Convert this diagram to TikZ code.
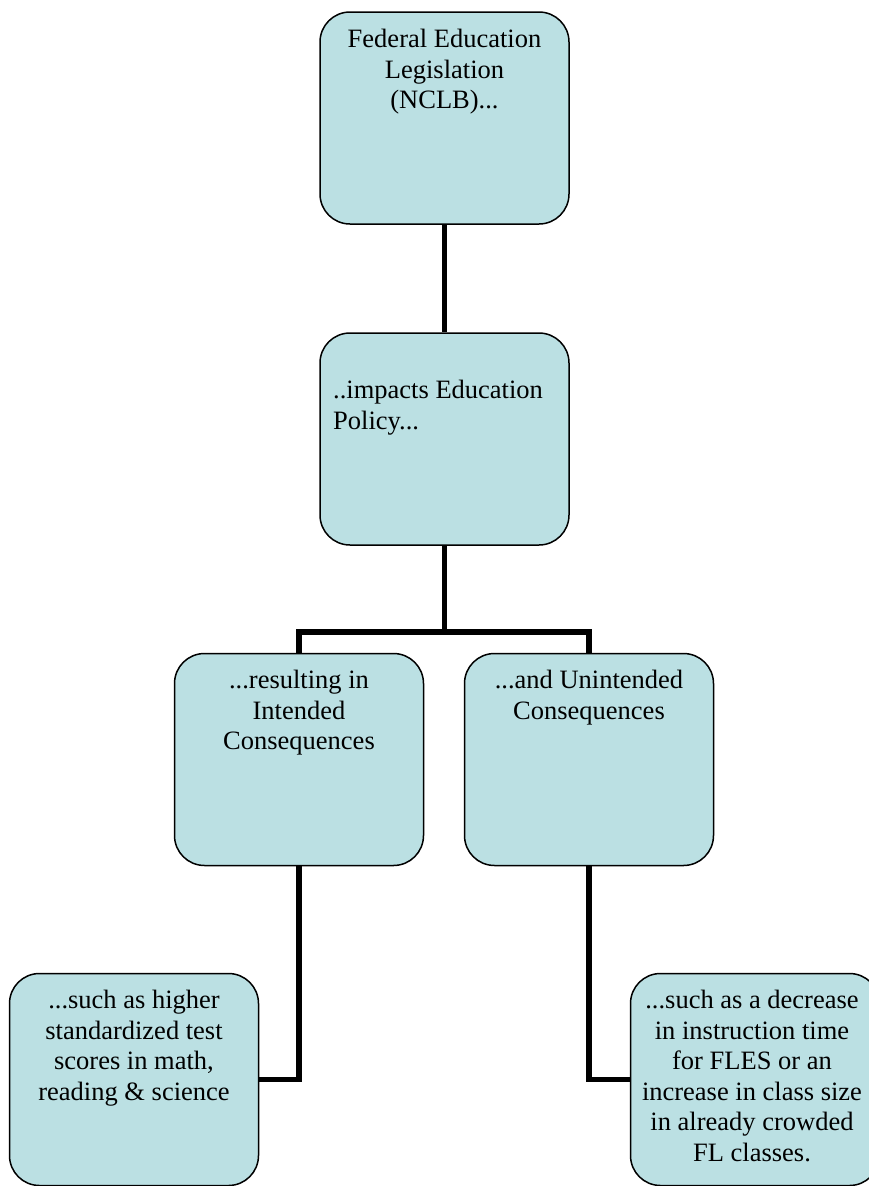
\documentclass[tikz,border=0pt]{standalone}
\usepackage{fontspec}
\setmainfont{Liberation Serif}
\definecolor{boxfill}{RGB}{187,224,227}
\pgfdeclarelayer{bg}
\pgfsetlayers{bg,main}
\begin{document}
\begin{tikzpicture}[x=1pt,y=-1pt,
  box/.style={draw=black, line width=1.5pt, fill=boxfill, rounded corners=30pt,
    minimum width=249pt, minimum height=212pt, inner sep=0pt},
  lbl/.style={font=\fontsize{26.5}{30.5}\selectfont, align=center, inner sep=0pt, anchor=north},
  link/.style={line width=5.5pt, line join=miter}]
\clip (0,0) rectangle (869,1186);
\useasboundingbox (0,0) rectangle (869,1186);
\coordinate (bus) at (444.5,632);
\node[box] (b1) at (444.5,118) {};
\node[box] (b2) at (444.5,439) {};
\node[box] (b3) at (299,759.5) {};
\node[box] (b4) at (589,759.5) {};
\node[box] (b5) at (134,1079.5) {};
\node[box] (b6) at (755,1079.5) {};
\begin{pgfonlayer}{bg}
\draw[link] (b1.south) -- (b2.north);
\draw[link] (b2.south) -- (bus) -| (b3.north);
\draw[link] (bus) -| (b4.north);
\draw[link] (b3.south) |- (b5.east);
\draw[link] (b4.south) |- (b6.east);
\end{pgfonlayer}
\node[lbl] (t1) at (444.5,29) {Federal Education\\Legislation\\(NCLB)...};
\node[lbl, align=left, anchor=north west] (t2) at (333,380) {..impacts Education\\Policy...};
\node[lbl] (t3) at (299,670) {...resulting in\\Intended\\Consequences};
\node[lbl] (t4) at (589,670) {...and Unintended\\Consequences};
\node[lbl] (t5) at (134,990) {...such as higher\\standardized test\\scores in math,\\reading \& science};
\node[lbl] (t6) at (752,990) {...such as a decrease\\in instruction time\\for FLES or an\\increase in class size\\in already crowded\\FL classes.};
\end{tikzpicture}
\end{document}
